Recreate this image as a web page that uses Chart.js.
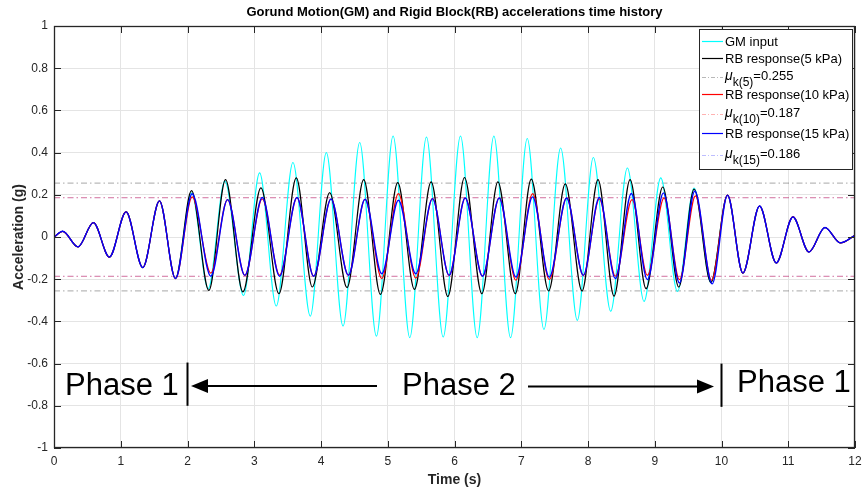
<!DOCTYPE html>
<html>
<head>
<meta charset="utf-8">
<script src="https://cdn.jsdelivr.net/npm/chart.js@4/dist/chart.umd.min.js"></script>
<style>
html,body{margin:0;padding:0;background:#fff;}
canvas{display:block;}
</style>
</head>
<body>
<canvas id="c" width="864" height="490"></canvas>
<script>
// ---------- data (extrema of each trace) ----------
const xTicks = [0,1,2,3,4,5,6,7,8,9,10,11,12];
const yTicks = [-1,-0.8,-0.6,-0.4,-0.2,0,0.2,0.4,0.6,0.8,1];

// Phase 1 (start): all four traces coincide
const startTime = [0, 0.13, 0.36, 0.59, 0.83, 1.08, 1.33, 1.58, 1.82];
const startAcc  = [0, 0.027, -0.047, 0.068, -0.095, 0.119, -0.145, 0.171, -0.197];

// Phase 2: GM input (cyan)
const gmTime = [2.06, 2.31, 2.56, 2.84, 3.08, 3.33, 3.58, 3.84, 4.08, 4.33, 4.58, 4.83, 5.08, 5.33, 5.58, 5.83,
                6.09, 6.34, 6.59, 6.84, 7.09, 7.34, 7.59, 7.84, 8.08, 8.34, 8.59, 8.84, 9.09, 9.34, 9.59, 9.84];
const gmAcc  = [0.21, -0.245, 0.265, -0.277, 0.304, -0.327, 0.353, -0.375, 0.40, -0.422, 0.448, -0.47, 0.479, -0.477, 0.474, -0.474,
                0.479, -0.477, 0.479, -0.477, 0.467, -0.438, 0.422, -0.395, 0.377, -0.352, 0.327, -0.305, 0.28, -0.258, 0.232, -0.216];

// Phase 2: RB response 5 kPa (black)
const rb5Time = [2.06, 2.32, 2.57, 2.83, 3.10, 3.37, 3.63, 3.87, 4.13, 4.39, 4.64, 4.89, 5.15, 5.40, 5.65, 5.90,
                 6.15, 6.41, 6.65, 6.91, 7.15, 7.41, 7.66, 7.91, 8.15, 8.39, 8.63, 8.87, 9.12, 9.36, 9.59, 9.84];
const rb5Acc  = [0.22, -0.253, 0.272, -0.26, 0.233, -0.269, 0.28, -0.237, 0.21, -0.24, 0.272, -0.272, 0.258, -0.248, 0.261, -0.282,
                 0.282, -0.269, 0.261, -0.269, 0.274, -0.256, 0.252, -0.256, 0.272, -0.28, 0.272, -0.245, 0.237, -0.237, 0.227, -0.216];

// Phase 2: RB response 10 kPa (red)
const rb10Time = [2.07, 2.35, 2.60, 2.86, 3.12, 3.38, 3.64, 3.89, 4.15, 4.41, 4.66, 4.91, 5.16, 5.42, 5.67, 5.92,
                  6.16, 6.42, 6.67, 6.92, 7.17, 7.42, 7.68, 7.93, 8.17, 8.41, 8.66, 8.89, 9.14, 9.37, 9.61, 9.85];
const rb10Acc  = [0.19, -0.171, 0.177, -0.182, 0.18, -0.18, 0.187, -0.186, 0.18, -0.18, 0.179, -0.197, 0.206, -0.195, 0.182, -0.182,
                  0.185, -0.186, 0.185, -0.205, 0.206, -0.202, 0.185, -0.182, 0.18, -0.186, 0.177, -0.182, 0.185, -0.202, 0.195, -0.205];

// Phase 2: RB response 15 kPa (blue)
const rb15Time = [2.07, 2.35, 2.60, 2.86, 3.12, 3.38, 3.64, 3.89, 4.15, 4.41, 4.66, 4.91, 5.16, 5.42, 5.67, 5.92,
                  6.16, 6.42, 6.67, 6.92, 7.17, 7.42, 7.68, 7.93, 8.17, 8.41, 8.65, 8.89, 9.13, 9.37, 9.60, 9.86];
const rb15Acc  = [0.205, -0.186, 0.177, -0.182, 0.187, -0.186, 0.187, -0.186, 0.18, -0.182, 0.179, -0.174, 0.174, -0.174, 0.182, -0.182,
                  0.185, -0.186, 0.185, -0.19, 0.19, -0.19, 0.185, -0.182, 0.187, -0.197, 0.206, -0.202, 0.209, -0.218, 0.218, -0.222];

// Phase 1 (end): traces coincide again
const endTime = [10.09, 10.32, 10.57, 10.82, 11.07, 11.31, 11.55, 11.78, 12.0];
const endAcc  = [0.198, -0.171, 0.147, -0.123, 0.095, -0.071, 0.045, -0.028, 0.008];

// kinetic friction thresholds
const muValues = [0.255, 0.187, 0.186];
const muLabels = ['5', '10', '15'];
const seriesLabels = ['GM input', 'RB response(5 kPa)', 'RB response(10 kPa)', 'RB response(15 kPa)'];

// ---------- helpers ----------
const FONT = "'Liberation Sans', Arial, Helvetica, sans-serif";
Chart.defaults.font.family = FONT;

function pts(ts, as) { return ts.map((t, i) => ({ x: t, y: as[i] })); }
function full(ts, as) {
  return pts(startTime.concat(ts, endTime), startAcc.concat(as, endAcc));
}
function trace(label, data, color, width, order) {
  return { label, data, borderColor: color, borderWidth: width, pointRadius: 0,
           cubicInterpolationMode: 'monotone', tension: 0.4, fill: false, order };
}
function muLine(label, v, color) {
  return { label, data: [{ x: 0, y: v }, { x: 12, y: v }], borderColor: color, borderWidth: 1.2,
           borderDash: [6, 3, 1.5, 3], pointRadius: 0, fill: false, order: 10 };
}

const muColors = ['rgba(0,0,0,0.28)', 'rgba(255,0,0,0.3)', 'rgba(0,0,255,0.26)'];

const datasets = [
  trace(seriesLabels[0], full(gmTime, gmAcc), '#00FFFF', 1.1, 4),
  trace(seriesLabels[1], full(rb5Time, rb5Acc), '#000000', 1.2, 3),
  trace(seriesLabels[2], full(rb10Time, rb10Acc), '#FF0000', 1.2, 2),
  trace(seriesLabels[3], full(rb15Time, rb15Acc), '#0000FF', 1.4, 1)
];
muValues.forEach((v, i) => {
  datasets.push(muLine('mu+' + muLabels[i], v, muColors[i]));
  datasets.push(muLine('mu-' + muLabels[i], -v, muColors[i]));
});

// ---------- decorations: box, inward ticks, legend, titles, phase notes ----------
const decor = {
  id: 'decor',
  afterDatasetsDraw(chart) {
    const { ctx, chartArea: a, scales: { x, y } } = chart;
    ctx.save();
    const line = (x1, y1, x2, y2) => { ctx.beginPath(); ctx.moveTo(x1, y1); ctx.lineTo(x2, y2); ctx.stroke(); };

    // axes box
    ctx.strokeStyle = '#262626';
    ctx.lineWidth = 1.3;
    ctx.strokeRect(a.left + 0.5, a.top + 0.5, a.right - a.left - 1, a.bottom - a.top - 1);
    ctx.lineWidth = 1;
    x.ticks.forEach(t => {
      const px = Math.round(x.getPixelForValue(t.value)) + 0.5;
      line(px, a.bottom, px, a.bottom - 7);
      line(px, a.top, px, a.top + 7);
    });
    y.ticks.forEach(t => {
      const py = Math.round(y.getPixelForValue(t.value)) + 0.5;
      line(a.left, py, a.left + 7, py);
      line(a.right, py, a.right - 7, py);
    });

    // title and axis titles
    ctx.fillStyle = '#000';
    ctx.textAlign = 'center';
    ctx.textBaseline = 'middle';
    ctx.font = 'bold 13px ' + FONT;
    ctx.fillText('Gorund Motion(GM) and Rigid Block(RB) accelerations time history', (a.left + a.right) / 2, 12);
    ctx.fillStyle = '#262626';
    ctx.font = 'bold 14px ' + FONT;
    ctx.fillText('Time (s)', (a.left + a.right) / 2, 480);
    ctx.save();
    ctx.translate(19, (a.top + a.bottom) / 2);
    ctx.rotate(-Math.PI / 2);
    ctx.fillText('Acceleration (g)', 0, 0);
    ctx.restore();

    // phase annotations
    ctx.fillStyle = '#000';
    ctx.strokeStyle = '#000';
    ctx.textAlign = 'left';
    ctx.textBaseline = 'alphabetic';
    ctx.font = '31px ' + FONT;
    ctx.fillText('Phase 1', 65, 395);
    ctx.fillText('Phase 2', 402, 395);
    ctx.fillText('Phase 1', 737, 392);
    ctx.lineWidth = 2;
    const x2 = x.getPixelForValue(2), x10 = x.getPixelForValue(10);
    line(x2, y.getPixelForValue(-0.595), x2, y.getPixelForValue(-0.80));
    line(x10, y.getPixelForValue(-0.60), x10, y.getPixelForValue(-0.805));
    ctx.lineWidth = 2;
    const ay = 386;
    line(377, ay, 205, ay);
    ctx.beginPath(); ctx.moveTo(191, ay); ctx.lineTo(208, ay - 7); ctx.lineTo(208, ay + 7); ctx.closePath(); ctx.fill();
    line(528, ay + 0.5, 699, ay + 0.5);
    ctx.beginPath(); ctx.moveTo(714, ay + 0.5); ctx.lineTo(697, ay - 6.5); ctx.lineTo(697, ay + 7.5); ctx.closePath(); ctx.fill();

    // legend
    const lx = 699.5, ly = 29.5, lw = 153, lh = 140;
    ctx.fillStyle = '#fff';
    ctx.fillRect(lx, ly, lw, lh);
    ctx.strokeStyle = '#262626';
    ctx.lineWidth = 1;
    ctx.strokeRect(lx, ly, lw, lh);
    const rows = [
      { y: 41, color: '#00FFFF', dash: [], text: seriesLabels[0] },
      { y: 58, color: '#000000', dash: [], text: seriesLabels[1] },
      { y: 77, color: muColors[0], dash: [4, 2, 1, 2], mu: 0 },
      { y: 94, color: '#FF0000', dash: [], text: seriesLabels[2] },
      { y: 114, color: muColors[1], dash: [4, 2, 1, 2], mu: 1 },
      { y: 133, color: '#0000FF', dash: [], text: seriesLabels[3] },
      { y: 155, color: muColors[2], dash: [4, 2, 1, 2], mu: 2 }
    ];
    const sx1 = 702, sx2 = 723, tx = 725;
    rows.forEach(r => {
      ctx.strokeStyle = r.color;
      ctx.lineWidth = 1.2;
      ctx.setLineDash(r.dash);
      line(sx1, r.y + 0.5, sx2, r.y + 0.5);
      ctx.setLineDash([]);
      ctx.fillStyle = '#000';
      ctx.textAlign = 'left';
      ctx.textBaseline = 'middle';
      if (r.text) {
        ctx.font = '13px ' + FONT;
        ctx.fillText(r.text, tx, r.y + 1);
      } else {
        let cx = tx;
        ctx.font = 'italic 14px ' + FONT;
        ctx.fillText('μ', cx, r.y - 1);
        cx += ctx.measureText('μ').width;
        ctx.font = '12px ' + FONT;
        const sub = 'k(' + muLabels[r.mu] + ')';
        ctx.fillText(sub, cx, r.y + 6);
        cx += ctx.measureText(sub).width;
        ctx.font = '13px ' + FONT;
        ctx.fillText('=' + muValues[r.mu].toFixed(3), cx, r.y - 1);
      }
    });
    ctx.restore();
  }
};

new Chart(document.getElementById('c'), {
  type: 'line',
  data: { datasets },
  options: {
    responsive: false,
    animation: false,
    events: [],
    layout: { padding: { top: 26, right: 9, left: 0, bottom: 0 } },
    plugins: { legend: { display: false }, title: { display: false }, tooltip: { enabled: false } },
    scales: {
      x: {
        type: 'linear', min: 0, max: 12,
        afterBuildTicks: s => { s.ticks = xTicks.map(v => ({ value: v })); },
        ticks: { color: '#262626', font: { size: 12 }, padding: 6, maxRotation: 0, autoSkip: false,
                 callback: v => String(v) },
        grid: { color: '#e4e4e4', lineWidth: 1, drawTicks: false },
        border: { display: false },
        afterFit: s => { s.height = 42; s.paddingLeft = 0; s.paddingRight = 0; }
      },
      y: {
        type: 'linear', min: -1, max: 1,
        afterBuildTicks: s => { s.ticks = yTicks.map(v => ({ value: v })); },
        ticks: { color: '#262626', font: { size: 12 }, padding: 6, autoSkip: false,
                 callback: v => String(Number(v.toFixed(1))) },
        grid: { color: '#e4e4e4', lineWidth: 1, drawTicks: false },
        border: { display: false },
        afterFit: s => { s.width = 54; s.paddingTop = 0; s.paddingBottom = 0; }
      }
    }
  },
  plugins: [decor]
});
</script>
</body>
</html>
